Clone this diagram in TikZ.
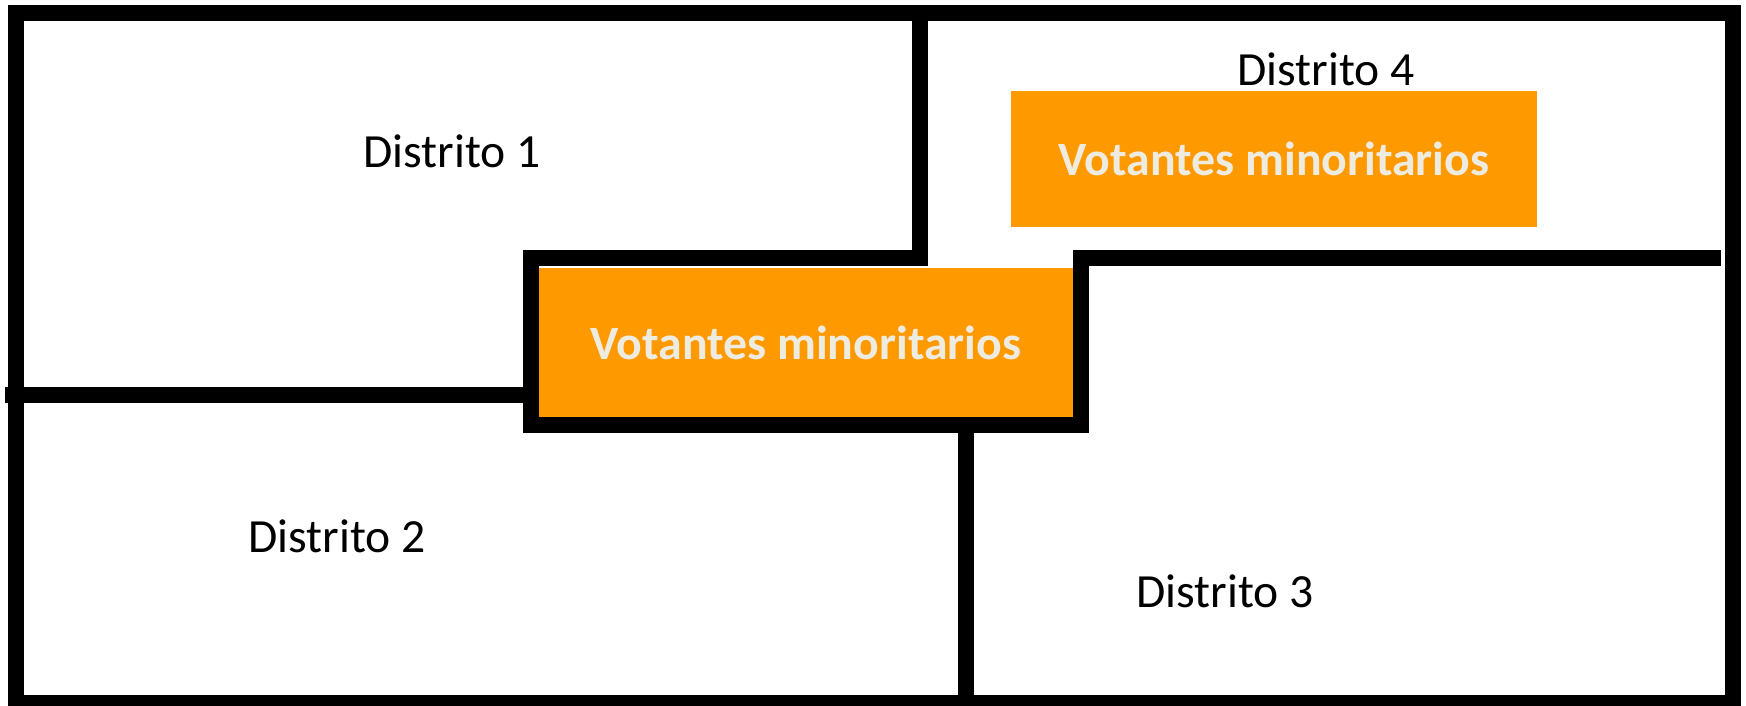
\documentclass[tikz,border=0pt]{standalone}
\usepackage{fontspec}
\setmainfont{Carlito}
\definecolor{voteorange}{RGB}{255,153,0}
\definecolor{votetext}{RGB}{238,236,225}
\begin{document}
\begin{tikzpicture}[x=0.5pt,y=-0.5pt,
  wall/.style={line width=8pt,black,line join=miter,line cap=butt},
  minority/.style={fill=voteorange,draw=none,inner sep=0pt,text=votetext,font=\fontsize{23.9}{28}\selectfont\bfseries},
  district/.style={inner sep=0pt,font=\fontsize{23.8}{28}\selectfont}]
\useasboundingbox (0,0) rectangle (1746,706);
\clip (0,0) rectangle (1746,706);
\fill[white] (0,0) rectangle (1746,706);
% orange boxes
\node[minority,minimum width=267pt,minimum height=74.5pt] (mid) at (806,342.5) {Votantes minoritarios};
\node[minority,minimum width=263pt,minimum height=68pt] (top) at (1274,159) {Votantes minoritarios};
% walls
\draw[wall] (16,13) rectangle (1733,703);
\draw[wall] (920,13) -- (920,258) -- (531,258) -- (531,425) -- (1081,425) -- (1081,258) -- (1721,258);
\draw[wall] (5,395) -- (531,395);
\draw[wall] (966,425) -- (966,712);
% labels
\node[district] (d1) at (452,151) {Distrito 1};
\node[district] (d2) at (337,536) {Distrito 2};
\node[district] (d3) at (1225,591) {Distrito 3};
\node[district] (d4) at (1326,69) {Distrito 4};
\end{tikzpicture}
\end{document}
